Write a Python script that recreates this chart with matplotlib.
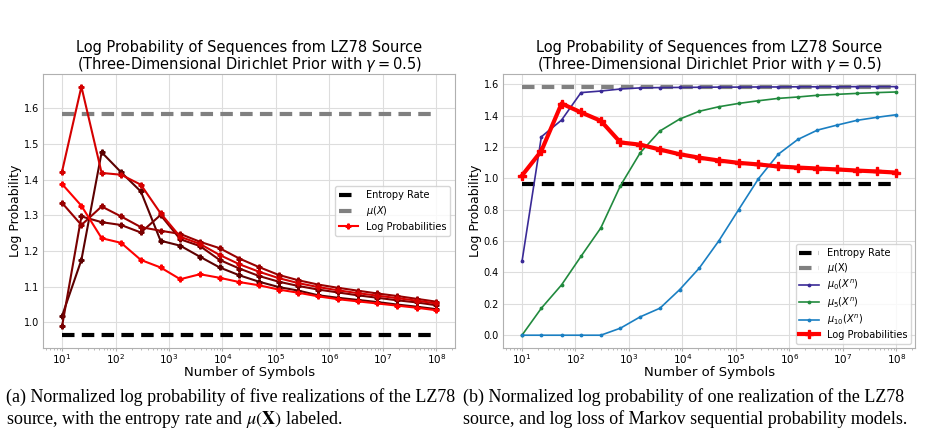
import matplotlib
matplotlib.use("Agg")
import matplotlib.pyplot as plt
import numpy as np

plt.rcParams['font.family'] = ['DejaVu Sans']
plt.rcParams['mathtext.fontset'] = 'dejavusans'

# number of symbols (x positions of the points)
n_symbols = [10, 23, 55, 127, 298, 695, 1624, 3793, 8859, 20691, 48329,
             112884, 263665, 615848, 1438450, 3359818, 7847600, 18329807,
             42813324, 100000000]
decade_ticks = [1e1, 1e2, 1e3, 1e4, 1e5, 1e6, 1e7, 1e8]

entropy_rate = 0.964
mu_x = 1.585

# left plot: five realizations
real_d = [1.018, 1.175, 1.477, 1.421, 1.367, 1.229, 1.215, 1.184, 1.154, 1.132,
          1.114, 1.099, 1.089, 1.076, 1.069, 1.063, 1.057, 1.050, 1.044, 1.037]
real_e = [0.989, 1.297, 1.281, 1.273, 1.252, 1.301, 1.233, 1.214, 1.175, 1.151,
          1.130, 1.114, 1.102, 1.092, 1.084, 1.076, 1.069, 1.062, 1.056, 1.048]
real_c = [1.335, 1.273, 1.325, 1.297, 1.267, 1.257, 1.248, 1.226, 1.208, 1.179,
          1.155, 1.133, 1.118, 1.106, 1.097, 1.089, 1.081, 1.074, 1.066, 1.058]
real_a = [1.423, 1.661, 1.419, 1.414, 1.386, 1.306, 1.240, 1.220, 1.189, 1.163,
          1.142, 1.124, 1.110, 1.099, 1.090, 1.082, 1.075, 1.068, 1.061, 1.053]
real_b = [1.388, 1.327, 1.236, 1.223, 1.175, 1.154, 1.121, 1.135, 1.125, 1.113,
          1.104, 1.092, 1.083, 1.073, 1.065, 1.059, 1.053, 1.047, 1.041, 1.034]
realizations = [real_d, real_e, real_c, real_a, real_b]
real_colors = ['#5c0000', '#7a0000', '#990000', '#d40000', '#ff0000']

# right plot: Markov models and one realization
mu0 = [0.470, 1.265, 1.372, 1.547, 1.557, 1.570, 1.577, 1.579, 1.580, 1.581,
       1.582, 1.582, 1.583, 1.583, 1.584, 1.584, 1.584, 1.585, 1.585, 1.585]
mu5 = [0.0, 0.172, 0.321, 0.503, 0.684, 0.954, 1.163, 1.302, 1.378, 1.428,
       1.457, 1.478, 1.495, 1.510, 1.519, 1.530, 1.536, 1.542, 1.547, 1.551]
mu10 = [0.0, 0.0, 0.0, 0.0, 0.0, 0.045, 0.117, 0.172, 0.290, 0.428,
        0.603, 0.801, 0.997, 1.153, 1.248, 1.308, 1.340, 1.370, 1.389, 1.406]
log_prob = real_d

title = 'Log Probability of Sequences from LZ78 Source\n(Three-Dimensional Dirichlet Prior with $\\gamma = 0.5$)'
dash = (0, (3.0, 1.75))

fig = plt.figure(figsize=(9.26, 4.34), dpi=100)
ax1 = fig.add_axes([0.0468, 0.199, 0.4446, 0.630])
ax2 = fig.add_axes([0.5435, 0.199, 0.4446, 0.630])


def style_axes(ax):
    ax.set_xscale('log')
    ax.set_xticks(decade_ticks)
    ax.grid(True, color='#dddddd', linewidth=0.8)
    ax.set_axisbelow(True)
    for s in ax.spines.values():
        s.set_color('#b0b0b0')
    ax.tick_params(axis='y', length=0, labelsize=7, pad=3)
    ax.tick_params(axis='x', which='major', length=2, color='#b0b0b0', labelsize=7.5, pad=1)
    ax.tick_params(axis='x', which='minor', length=1.2, color='#b0b0b0')
    ax.set_xlabel('Number of Symbols', fontsize=9.5, labelpad=0)
    ax.set_ylabel('Log Probability', fontsize=9, labelpad=1)
    ax.set_title(title, fontsize=10.5, pad=3, linespacing=1.0)


# left
ax1.plot(n_symbols, [entropy_rate] * len(n_symbols), color='black', lw=3, ls=dash, label='Entropy Rate')
ax1.plot(n_symbols, [mu_x] * len(n_symbols), color='gray', lw=3, ls=dash, label='$\\mu(X)$')
for i, (vals, c) in enumerate(zip(realizations, real_colors)):
    lab = 'Log Probabilities' if i == len(realizations) - 1 else None
    ax1.plot(n_symbols, vals, color=c, lw=1.5, marker='P', markersize=3.5, label=lab)
style_axes(ax1)
ax1.legend(loc='center right', fontsize=7, labelspacing=0.4, bbox_to_anchor=(1.0, 0.5))

# right
ax2.plot(n_symbols, [entropy_rate] * len(n_symbols), color='black', lw=3, ls=dash, label='Entropy Rate')
ax2.plot(n_symbols, [mu_x] * len(n_symbols), color='gray', lw=3, ls=dash, label='$\\mu(\\mathrm{X})$')
ax2.plot(n_symbols, mu0, color='#3a2a96', lw=1.2, marker='.', markersize=3.5, label='$\\mu_0(X^n)$')
ax2.plot(n_symbols, mu5, color='#218a3e', lw=1.2, marker='.', markersize=3.5, label='$\\mu_5(X^n)$')
ax2.plot(n_symbols, mu10, color='#1a7fc2', lw=1.2, marker='.', markersize=3.5, label='$\\mu_{10}(X^n)$')
ax2.plot(n_symbols, log_prob, color='#ff0000', lw=3, marker='P', markersize=6, label='Log Probabilities')
style_axes(ax2)
ax2.legend(loc='lower right', fontsize=7, labelspacing=0.3, borderaxespad=0.4)

cap = dict(family='Liberation Serif', fontsize=13.0, va='baseline', ha='left')
plt.rcParams['mathtext.fontset'] = 'stix'
fig.text(0.006, 1 - 402 / 434, '(a) Normalized log probability of five realizations of the LZ78', **cap)
fig.text(0.006, 1 - 424 / 434, 'source, with the entropy rate and $\\mu(\\mathbf{X})$ labeled.', **cap)
fig.text(0.5, 1 - 402 / 434, '(b) Normalized log probability of one realization of the LZ78', **cap)
fig.text(0.5, 1 - 424 / 434, 'source, and log loss of Markov sequential probability models.', **cap)

fig.savefig('out.png', dpi=100)
